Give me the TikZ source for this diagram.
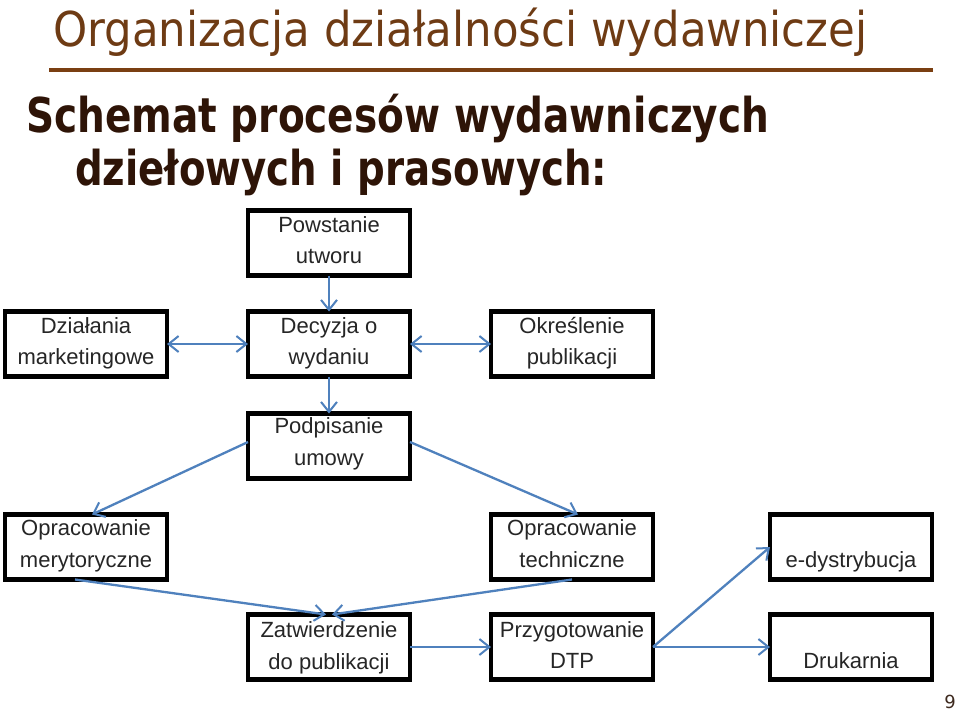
\documentclass[tikz,border=0pt]{standalone}
\usepackage{fontspec}
\usepackage{graphicx}
\usetikzlibrary{arrows.meta,calc}
\newfontfamily\titlefont{DejaVu Sans}
\newfontfamily\boxfont{Liberation Sans}
\definecolor{titlebrown}{HTML}{6E3B14}
\definecolor{rulebrown}{HTML}{7A3F12}
\definecolor{subbrown}{HTML}{2E1407}
\definecolor{arrblue}{HTML}{4F81BD}
\definecolor{boxtext}{HTML}{262626}
\tikzset{
  bx/.style={draw=black, line width=4.6pt, fill=white, minimum width=162pt, minimum height=65pt, inner sep=0pt, outer sep=0pt},
  tx/.style={anchor=base, inner sep=0pt, font=\boxfont\fontsize{22}{22}\selectfont, text=boxtext},
  tip/.style={Straight Barb[length=10pt,width=16pt,line width=2pt]},
  arr/.style={draw=arrblue, line width=2.3pt, -{Straight Barb[length=10pt,width=16pt,line width=2pt]}},
  darr/.style={draw=arrblue, line width=2.3pt, {Straight Barb[length=10pt,width=16pt,line width=2pt]}-{Straight Barb[length=10pt,width=16pt,line width=2pt]}}
}
\begin{document}
\begin{tikzpicture}[x=1pt,y=-1pt]
\useasboundingbox (0,0) rectangle (960,712);
\fill[white] (0,0) rectangle (960,712);
% titles
\node[anchor=base west, inner sep=0pt, text=titlebrown] (title) at (53,46)
  {\resizebox{814pt}{\height}{\titlefont\fontsize{48}{48}\selectfont Organizacja działalności wydawniczej}};
\draw[rulebrown, line width=4.5pt] (49,70) -- (933,70);
\node[anchor=base west, inner sep=0pt, text=subbrown] (sub1) at (26,132)
  {\resizebox{743pt}{\height}{\titlefont\bfseries\fontsize{48}{48}\selectfont Schemat procesów wydawniczych}};
\node[anchor=base west, inner sep=0pt, text=subbrown] (sub2) at (75,185)
  {\resizebox{532pt}{\height}{\titlefont\bfseries\fontsize{48}{48}\selectfont dziełowych i prasowych:}};
% boxes
\node[bx] (powst) at (329,243) {};
\node[bx] (dzial) at (86,344) {};
\node[bx] (decyz) at (329,344) {};
\node[bx] (okres) at (572,344) {};
\node[bx] (podpis) at (329,446) {};
\node[bx] (mery) at (86,547) {};
\node[bx] (techn) at (572,547) {};
\node[bx] (edys) at (851,547) {};
\node[bx] (zatw) at (329,647) {};
\node[bx] (przyg) at (572,647) {};
\node[bx] (druk) at (851,647) {};
% texts
\node[tx] (powst1) at ($(powst)+(0,-11)$) {Powstanie};
\node[tx] (powst2) at ($(powst)+(0,20)$) {utworu};
\node[tx] (dzial1) at ($(dzial)+(0,-11)$) {Działania};
\node[tx] (dzial2) at ($(dzial)+(0,20)$) {marketingowe};
\node[tx] (decyz1) at ($(decyz)+(0,-11)$) {Decyzja o};
\node[tx] (decyz2) at ($(decyz)+(0,20)$) {wydaniu};
\node[tx] (okres1) at ($(okres)+(0,-11)$) {Określenie};
\node[tx] (okres2) at ($(okres)+(0,20)$) {publikacji};
\node[tx] (podpis1) at ($(podpis)+(0,-13)$) {Podpisanie};
\node[tx] (podpis2) at ($(podpis)+(0,19)$) {umowy};
\node[tx] (mery1) at ($(mery)+(0,-12)$) {Opracowanie};
\node[tx] (mery2) at ($(mery)+(0,20)$) {merytoryczne};
\node[tx] (techn1) at ($(techn)+(0,-12)$) {Opracowanie};
\node[tx] (techn2) at ($(techn)+(0,20)$) {techniczne};
\node[tx] (edys1) at ($(edys)+(0,20)$) {e-dystrybucja};
\node[tx] (zatw1) at ($(zatw)+(0,-10)$) {Zatwierdzenie};
\node[tx] (zatw2) at ($(zatw)+(0,22)$) {do publikacji};
\node[tx] (przyg1) at ($(przyg)+(0,-10)$) {Przygotowanie};
\node[tx] (przyg2) at ($(przyg)+(0,21)$) {DTP};
\node[tx] (druk1) at ($(druk)+(0,21)$) {Drukarnia};
% connectors
\draw[arr] (powst.south) -- (decyz.north);
\draw[arr] (decyz.south) -- (podpis.north);
\draw[darr] (dzial.east) -- (decyz.west);
\draw[darr] (decyz.east) -- (okres.west);
\draw[arr] ([yshift=4pt]podpis.west) -- ([xshift=6pt]mery.north);
\draw[arr] ([yshift=4pt]podpis.east) -- ([xshift=6pt]techn.north);
\draw[arr] ([xshift=-11pt]mery.south) -- ([xshift=-3pt]zatw.north);
\draw[arr] (techn.south) -- ([xshift=3pt]zatw.north);
\draw[arr] (zatw.east) -- (przyg.west);
\draw[arr] (przyg.east) -- (edys.west);
\draw[arr] (przyg.east) -- (druk.west);
% page number
\node[anchor=base, inner sep=0pt, text=subbrown!80!gray] (pnum) at (950,708) {\titlefont\fontsize{18}{18}\selectfont 9};
\end{tikzpicture}
\end{document}
